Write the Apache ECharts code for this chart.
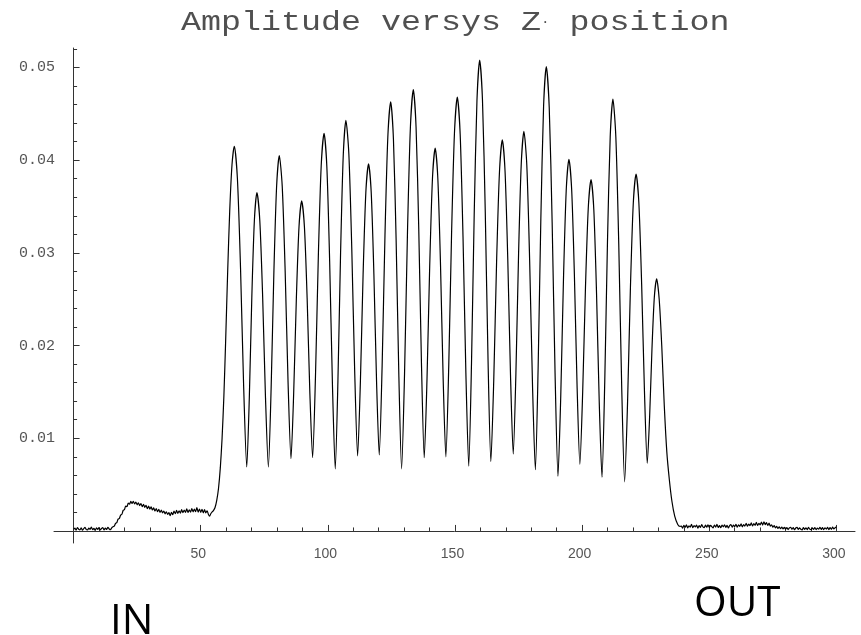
<!DOCTYPE html>
<html>
<head>
<meta charset="utf-8">
<script src="https://cdn.jsdelivr.net/npm/echarts@6/dist/echarts.min.js"></script>
<style>
  html, body { margin: 0; padding: 0; background: #fff; }
  #chart { width: 861px; height: 635px; }
</style>
</head>
<body>
<div id="chart"></div>
<script>
// Entrance region: amplitude sampled every 0.5 along Z, from Z = 0
const entryStart = 0;
const entryStep = 0.5;
const entryAmp = [
  0.00016, 0.00031, 0.00009, 0.00036, 0.00019, 0.00012, 0.00034, 0.00008, 0.00025, 0.00039,
  0.00014, 0.00011, 0.00030, 0.00018, 0.00041, 0.00013, 0.00028, 0.00007, 0.00033, 0.00017,
  0.00037, 0.00012, 0.00026, 0.00035, 0.00010, 0.00031, 0.00016, 0.00040, 0.00021, 0.00013, 0.00034,
  0.00045, 0.00052, 0.00081, 0.00090, 0.00128, 0.00134, 0.00171, 0.00180, 0.00222, 0.00229,
  0.00268, 0.00262, 0.00300, 0.00288, 0.00318, 0.00296, 0.00320, 0.00291, 0.00312, 0.00282,
  0.00303, 0.00274, 0.00295, 0.00262, 0.00287, 0.00255, 0.00276, 0.00240, 0.00268, 0.00236,
  0.00259, 0.00226, 0.00249, 0.00215, 0.00240, 0.00208, 0.00233, 0.00199, 0.00224, 0.00196,
  0.00214, 0.00185, 0.00207, 0.00178, 0.00198, 0.00165, 0.00201, 0.00176, 0.00214, 0.00186,
  0.00221, 0.00190, 0.00218, 0.00193, 0.00230, 0.00197, 0.00226, 0.00201, 0.00238, 0.00199,
  0.00228, 0.00204, 0.00241, 0.00206, 0.00236, 0.00209, 0.00252, 0.00203, 0.00237, 0.00200,
  0.00233, 0.00196, 0.00229, 0.00194, 0.00218, 0.00180, 0.00160, 0.00188, 0.00205
];

// Resonator region: peaks and troughs of the standing wave
const cavityZ = [
  55.0, 55.6, 56.3, 57.0, 57.7, 58.4, 59.1, 59.8, 60.6, 61.4, 62.3, 63.2,
  64.43, 65.65, 66.88, 68.1, 69.1, 70.1, 71.1, 72.1,
  73.23, 74.35, 75.48, 76.6, 77.68, 78.75, 79.83, 80.9,
  82.05, 83.2, 84.35, 85.5, 86.55, 87.6, 88.65, 89.7,
  90.78, 91.85, 92.93, 94.0, 95.13, 96.25, 97.38, 98.5,
  99.6, 100.7, 101.8, 102.9, 103.95, 105.0, 106.05, 107.1,
  108.25, 109.4, 110.55, 111.7, 112.78, 113.85, 114.93, 116.0,
  117.05, 118.1, 119.15, 120.2, 121.33, 122.45, 123.58, 124.7,
  125.78, 126.85, 127.93, 129.0, 130.15, 131.3, 132.45, 133.6,
  134.68, 135.75, 136.83, 137.9, 138.98, 140.05, 141.13, 142.2,
  143.25, 144.3, 145.35, 146.4, 147.53, 148.65, 149.78, 150.9,
  152.03, 153.15, 154.28, 155.4, 156.48, 157.55, 158.63, 159.7,
  160.8, 161.9, 163.0, 164.1, 165.23, 166.35, 167.48, 168.6,
  169.68, 170.75, 171.83, 172.9, 173.95, 175.0, 176.05, 177.1,
  178.23, 179.35, 180.48, 181.6, 182.68, 183.75, 184.83, 185.9,
  187.05, 188.2, 189.35, 190.5, 191.58, 192.65, 193.73, 194.8,
  195.88, 196.95, 198.03, 199.1, 200.2, 201.3, 202.4, 203.5,
  204.58, 205.65, 206.73, 207.8, 208.88, 209.95, 211.03, 212.1,
  213.25, 214.4, 215.55, 216.7, 217.83, 218.95, 220.08, 221.2,
  222.3, 223.4, 224.5, 225.6, 226.53, 227.45, 228.38, 229.3,
  230.3, 231.3, 232.3, 233.3, 234.3, 235.3, 236.4, 237.6, 238.5
];
const cavityAmp = [
  0.0022, 0.0025, 0.0033, 0.0046, 0.0068, 0.0100, 0.0145, 0.0205, 0.0280, 0.0345, 0.0395, 0.0415,
  0.0380, 0.0284, 0.0156, 0.0069, 0.0143, 0.0253, 0.0335, 0.0365,
  0.0335, 0.0253, 0.0143, 0.0069, 0.0153, 0.0277, 0.0371, 0.0405,
  0.0372, 0.0281, 0.0160, 0.0078, 0.0148, 0.0250, 0.0328, 0.0356,
  0.0328, 0.0251, 0.0148, 0.0079, 0.0167, 0.0296, 0.0394, 0.0429,
  0.0393, 0.0291, 0.0158, 0.0067, 0.0161, 0.0300, 0.0405, 0.0443,
  0.0407, 0.0305, 0.0172, 0.0081, 0.0160, 0.0276, 0.0365, 0.0396,
  0.0365, 0.0277, 0.0161, 0.0082, 0.0177, 0.0318, 0.0425, 0.0463,
  0.0423, 0.0313, 0.0166, 0.0067, 0.0169, 0.0321, 0.0435, 0.0476,
  0.0436, 0.0325, 0.0178, 0.0079, 0.0163, 0.0286, 0.0380, 0.0413,
  0.0380, 0.0287, 0.0163, 0.0080, 0.0177, 0.0321, 0.0429, 0.0468,
  0.0428, 0.0317, 0.0170, 0.0070, 0.0180, 0.0342, 0.0464, 0.0508,
  0.0465, 0.0344, 0.0183, 0.0075, 0.0162, 0.0290, 0.0387, 0.0422,
  0.0388, 0.0293, 0.0168, 0.0083, 0.0170, 0.0299, 0.0396, 0.0431,
  0.0395, 0.0292, 0.0157, 0.0066, 0.0175, 0.0336, 0.0458, 0.0501,
  0.0457, 0.0333, 0.0170, 0.0059, 0.0145, 0.0271, 0.0367, 0.0401,
  0.0368, 0.0276, 0.0154, 0.0072, 0.0149, 0.0262, 0.0348, 0.0379,
  0.0347, 0.0257, 0.0138, 0.0058, 0.0160, 0.0311, 0.0425, 0.0466,
  0.0425, 0.0309, 0.0156, 0.0053, 0.0136, 0.0259, 0.0352, 0.0385,
  0.0354, 0.0266, 0.0151, 0.0073, 0.0123, 0.0196, 0.0252, 0.0272,
  0.0250, 0.0200, 0.0135, 0.0085, 0.0055, 0.0032, 0.0016, 0.0007, 0.0005
];

// Exit region: amplitude sampled every 0.5 along Z, from Z = 239
const exitStart = 239;
const exitStep = 0.5;
const exitAmp = [
  0.00052, 0.00031, 0.00060, 0.00038, 0.00067, 0.00033, 0.00056, 0.00041, 0.00072, 0.00036, 0.00059,
  0.00043, 0.00064, 0.00031, 0.00058, 0.00039, 0.00068, 0.00045, 0.00036, 0.00063, 0.00041, 0.00066,
  0.00038, 0.00060, 0.00047, 0.00033, 0.00064, 0.00042, 0.00070, 0.00037, 0.00058, 0.00035,
  0.00062, 0.00044, 0.00067, 0.00039, 0.00060, 0.00032, 0.00057, 0.00069, 0.00041, 0.00063,
  0.00046, 0.00072, 0.00040, 0.00066, 0.00050, 0.00077, 0.00044, 0.00069, 0.00053, 0.00081,
  0.00051, 0.00074, 0.00057, 0.00087, 0.00054, 0.00078, 0.00061, 0.00092, 0.00059, 0.00083,
  0.00065, 0.00095, 0.00063, 0.00099, 0.00069, 0.00089, 0.00060, 0.00085, 0.00053, 0.00067,
  0.00040, 0.00057, 0.00033, 0.00049, 0.00028, 0.00045, 0.00024, 0.00041, 0.00021, 0.00039,
  0.00019, 0.00036, 0.00015, 0.00033, 0.00040, 0.00017, 0.00035, 0.00013, 0.00032, 0.00038,
  0.00016, 0.00034, 0.00019, 0.00012, 0.00036, 0.00018, 0.00033, 0.00014, 0.00039, 0.00020,
  0.00015, 0.00034, 0.00017, 0.00037, 0.00013, 0.00032, 0.00019, 0.00040, 0.00016, 0.00035,
  0.00014, 0.00033, 0.00020, 0.00038, 0.00015, 0.00036, 0.00018, 0.00041, 0.00021, 0.00035, 0.00046
];

// Tick marks and labels
const xTickValues = [50, 100, 150, 200, 250, 300];
const xMinorTicks = [10, 20, 30, 40, 60, 70, 80, 90, 110, 120, 130, 140, 160, 170, 180, 190,
                     210, 220, 230, 240, 260, 270, 280, 290];
const yTickValues = [0.01, 0.02, 0.03, 0.04, 0.05];
const yMinorTicks = [0.002, 0.004, 0.006, 0.008, 0.012, 0.014, 0.016, 0.018, 0.022, 0.024, 0.026, 0.028,
                     0.032, 0.034, 0.036, 0.038, 0.042, 0.044, 0.046, 0.048, 0.052];

const titleText = 'Amplitude versys Z{dot|·} position';

// Build the [z, amplitude] pairs for the single trace
const points = [];
entryAmp.forEach((v, i) => points.push([entryStart + i * entryStep, v]));
cavityZ.forEach((z, i) => points.push([z, cavityAmp[i]]));
exitAmp.forEach((v, i) => points.push([exitStart + i * exitStep, v]));

const zMin = -7.7, zMax = 307.3;
const aMin = -0.0013, aMax = 0.0521;
const axisColor = '#333';
const labelColor = '#555';

function xAxisDef(major) {
  return {
    type: 'value', min: zMin, max: zMax, position: 'bottom',
    axisLine: { show: true, onZero: true, lineStyle: { color: axisColor, width: 1, opacity: major ? 1 : 0 } },
    axisTick: {
      show: true, inside: true, length: major ? 6 : 3.5,
      customValues: major ? xTickValues : xMinorTicks,
      lineStyle: { color: axisColor, width: 1 }
    },
    axisLabel: {
      show: major, customValues: xTickValues, margin: 4,
      color: labelColor, fontFamily: 'Liberation Sans', fontSize: 14,
      padding: [0, 5, 0, 0]
    },
    splitLine: { show: false }
  };
}

function yAxisDef(major) {
  return {
    type: 'value', min: aMin, max: aMax, position: 'left',
    axisLine: { show: true, onZero: true, lineStyle: { color: axisColor, width: 1, opacity: major ? 1 : 0 } },
    axisTick: {
      show: true, inside: true, length: major ? 6 : 3.5,
      customValues: major ? yTickValues : yMinorTicks,
      lineStyle: { color: axisColor, width: 1 }
    },
    axisLabel: {
      show: major, customValues: yTickValues, margin: -1,
      color: labelColor, fontFamily: 'Liberation Mono', fontSize: 15,
      formatter: v => v.toFixed(2)
    },
    splitLine: { show: false }
  };
}

const chart = echarts.init(document.getElementById('chart'), null, { renderer: 'canvas' });
chart.setOption({
  animation: false,
  backgroundColor: '#fff',
  grid: { left: 54, right: 6, top: 48, bottom: 92, containLabel: false, outerBoundsMode: 'none' },
  xAxis: [xAxisDef(true), xAxisDef(false)],
  yAxis: [yAxisDef(true), yAxisDef(false)],
  series: [{
    type: 'line',
    xAxisIndex: 0, yAxisIndex: 0,
    data: points,
    showSymbol: false,
    smooth: 0.25,
    lineStyle: { color: '#000', width: 1.2 }
  }],
  graphic: [
    // Chart title in a wide typewriter face
    { type: 'text', x: 181, y: 23, scaleX: 1.19, scaleY: 1,
      style: {
        text: titleText, fontSize: 28, fontFamily: 'Liberation Mono', fill: '#505050',
        align: 'left', verticalAlign: 'middle', textAlign: 'left', textVerticalAlign: 'middle',
        rich: { dot: { fontSize: 12, fontFamily: 'Liberation Mono', fill: '#505050', color: '#505050' } }
      } },
    { type: 'text', x: 110, y: 622,
      style: { text: 'IN', fontSize: 42, fontFamily: 'Open Sans', fill: '#000',
               align: 'left', verticalAlign: 'middle', textAlign: 'left', textVerticalAlign: 'middle' } },
    { type: 'text', x: 694, y: 604,
      style: { text: 'OUT', fontSize: 42, fontFamily: 'Open Sans', fill: '#000',
               align: 'left', verticalAlign: 'middle', textAlign: 'left', textVerticalAlign: 'middle' } }
  ]
});
</script>
</body>
</html>
